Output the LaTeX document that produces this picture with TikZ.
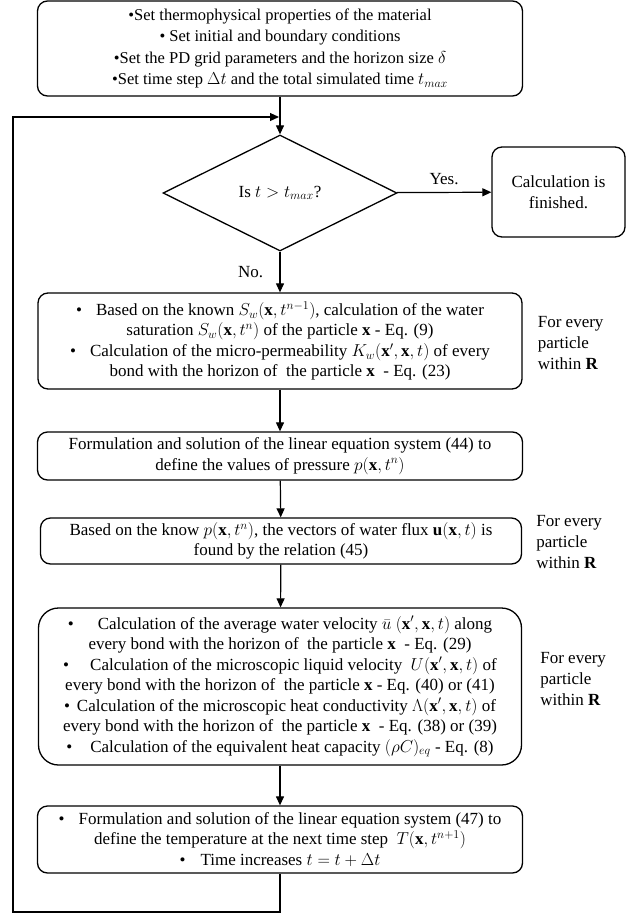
\documentclass[tikz,border=0pt]{standalone}
\usepackage{fontspec}
\setmainfont{Liberation Serif}
\usetikzlibrary{shapes.geometric,arrows.meta,positioning}
\tikzset{
    box/.style={draw, rounded corners=10pt, line width=1.3pt, align=center, inner sep=0pt, font=\fontsize{17}{20.5}\selectfont},
    choice/.style={draw, diamond, line width=1.3pt, inner sep=0pt, minimum width=234pt, minimum height=116pt, font=\fontsize{17}{20.5}\selectfont},
    note/.style={align=left, inner sep=0pt, font=\fontsize{17}{21}\selectfont},
    link/.style={line width=1.2pt},
    arr/.style={link, -{Triangle[length=9pt,width=8pt]}}
}
\newcommand{\vx}{\mathbf{x}}
\begin{document}
\begin{tikzpicture}[x=1pt,y=-1pt]
                \useasboundingbox (0,0) rectangle (626,919);
                \def\w{485};
                \node[box, minimum width=\w, minimum height=95, font=\fontsize{16.5}{21.3}\selectfont] (init) at (280,48.5) {%
                    •Set thermophysical properties of the material\\
                    • Set initial and boundary conditions\\
                    •Set the PD grid parameters and the horizon size $\delta$\\
                    •Set time step $\Delta t$ and the total simulated time $t_{max}$};
                \node[choice] (test) at (280,193) {Is $t > t_{max}$?};
                \node[box, minimum width=133, minimum height=90] (done) at (558.5,192) {Calculation is\\finished.};
                \node[box, minimum width=484, minimum height=96] (satur) at (280,341) {%
                    •\hspace{14pt}Based on the known $S_w(\vx,t^{n-1})$, calculation of the water\\
                    saturation $S_w(\vx,t^n)$ of the particle $\vx$ - Eq. (9)\\
                    •\hspace{14pt}Calculation of the micro-permeability $K_w(\vx',\vx,t)$ of every\\
                    bond with the horizon of \ the particle $\vx$ \ - Eq. (23)};
                \node[box, minimum width=\w, minimum height=48] (press) at (280,456) {%
                    Formulation and solution of the linear equation system (44) to\\
                    define the values of pressure $p(\vx,t^n)$};
                \node[box, minimum width=481, minimum height=46] (flux) at (281,541) {%
                    Based on the know $p(\vx,t^n)$, the vectors of water flux $\mathbf{u}(\vx,t)$ is\\
                    found by the relation (45)};
                \node[box, rounded corners=20pt, minimum width=483, minimum height=157] (bond) at (280,686.5) {%
                    •\hspace{24pt}Calculation of the average water velocity $\bar{u}\ (\vx',\vx,t)$ along\\
                    every bond with the horizon of \ the particle $\vx$ \ - Eq. (29)\\
                    •\hspace{21pt}Calculation of the microscopic liquid velocity \ $U(\vx',\vx,t)$ of\\
                    every bond with the horizon of \ the particle $\vx$ - Eq. (40) or (41)\\
                    •\hspace{7pt}Calculation of the microscopic heat conductivity $\Lambda(\vx',\vx,t)$ of\\
                    every bond with the horizon of \ the particle $\vx$ \ - Eq. (38) or (39)\\
                    •\hspace{18pt}Calculation of the equivalent heat capacity $(\rho C)_{eq}$ - Eq. (8)};
                \node[box, minimum width=\w, minimum height=67] (temp) at (280,839.5) {%
                    •\hspace{14pt}Formulation and solution of the linear equation system (47) to\\
                    define the temperature at the next time step \ $T(\vx,t^{n+1})$\\
                    •\hspace{15pt}Time increases $t = t + \Delta t$};
                \node[note, right=15pt of satur, yshift=-2pt] (rsatur) {For every\\particle\\within \textbf{R}};
                \node[note, right=14pt of flux, yshift=-1pt] (rflux) {For every\\particle\\within \textbf{R}};
                \node[note, right=18pt of bond, yshift=7pt] (rbond) {For every\\particle\\within \textbf{R}};
                \coordinate (back) at (13,912);
                \coordinate (entry) at (279,117);
                \draw[arr] (init) -- (test);
                \draw[arr] (test) -- node[above=4pt, font=\fontsize{17}{20}\selectfont] {Yes.} (done);
                \draw[arr] (test) -- node[left=13pt, font=\fontsize{17}{20}\selectfont] {No.} (satur);
                \draw[arr] (satur) -- (press);
                \draw[arr] (press) -- (flux);
                \draw[arr] (flux) -- (bond);
                \draw[arr] (bond) -- (temp);
                \draw[arr] (temp.south) |- (back) |- (entry);
            \end{tikzpicture}
\end{document}
